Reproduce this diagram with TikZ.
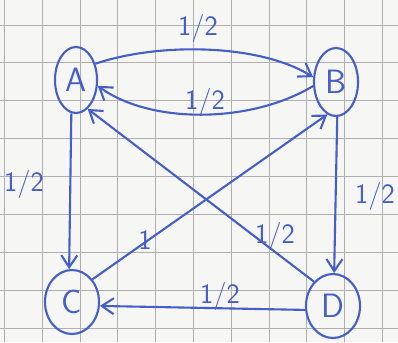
\documentclass[tikz,border=0pt]{standalone}
\usepackage{xcolor}
\usepackage{tikz}
\usetikzlibrary{shapes.geometric,arrows.meta,positioning}
\definecolor{ink}{RGB}{70,95,200}
\definecolor{paper}{RGB}{246,246,244}
\definecolor{gridc}{RGB}{175,175,178}
\tikzset{
    state/.style={ellipse, draw=ink, line width=1.5pt, inner sep=0pt, font=\sffamily\fontsize{24}{24}\selectfont, text=ink},
    flow/.style={-{Straight Barb[length=3mm, width=4mm]}, draw=ink, line width=1.5pt},
    weight/.style={font=\sffamily\fontsize{20}{20}\selectfont, text=ink},
    gridline/.style={draw=gridc, line width=0.6pt},
}

\begin{document}
\begin{tikzpicture}[x=0.025cm, y=0.025cm]
    % paper
    \fill[paper] (0,0) rectangle (398,342);
    \useasboundingbox (0,0) rectangle (398,342);
    \foreach \i in {0,...,10}
        \draw[gridline] ({4.5+37.8*\i},0) -- ({4.5+37.8*\i},342);
    \foreach \j in {0,...,8}
        \draw[gridline] (0,{317-37.9*\j}) -- (398,{317-37.9*\j});

    % states
    \node[state, minimum width=1.05cm, minimum height=1.65cm] (A) at (76,262) {A};
    \node[state, minimum width=1.1cm, minimum height=1.7cm] (B) at (336,260) {B};
    \node[state, minimum width=1.35cm, minimum height=1.6cm] (C) at (72,40) {C};
    \node[state, minimum width=1.35cm, minimum height=1.6cm] (D) at (333,36) {D};

    % transitions
    \draw[flow] (A.40) .. controls (160,300) and (260,298) .. (B.168);
    \draw[flow] (B.190) .. controls (250,218) and (150,218) .. (A.345);
    \draw[flow] (A.262) -- (C.95);
    \draw[flow] (B.272) -- (D.88);
    \draw[flow] (C.48) -- (B.255);
    \draw[flow] (D.128) -- (A.292);
    \draw[flow] (D.188) -- (C.-8);

    % weights
    \node[weight] (wab) at (198,314) {1/2};
    \node[weight] (wba) at (205,240) {1/2};
    \node[weight] (wac) at (24,158) {1/2};
    \node[weight] (wbd) at (375,146) {1/2};
    \node[weight] (wcb) at (145,102) {1};
    \node[weight] (wda) at (275,106) {1/2};
    \node[weight] (wdc) at (220,46) {1/2};
\end{tikzpicture}
\end{document}
